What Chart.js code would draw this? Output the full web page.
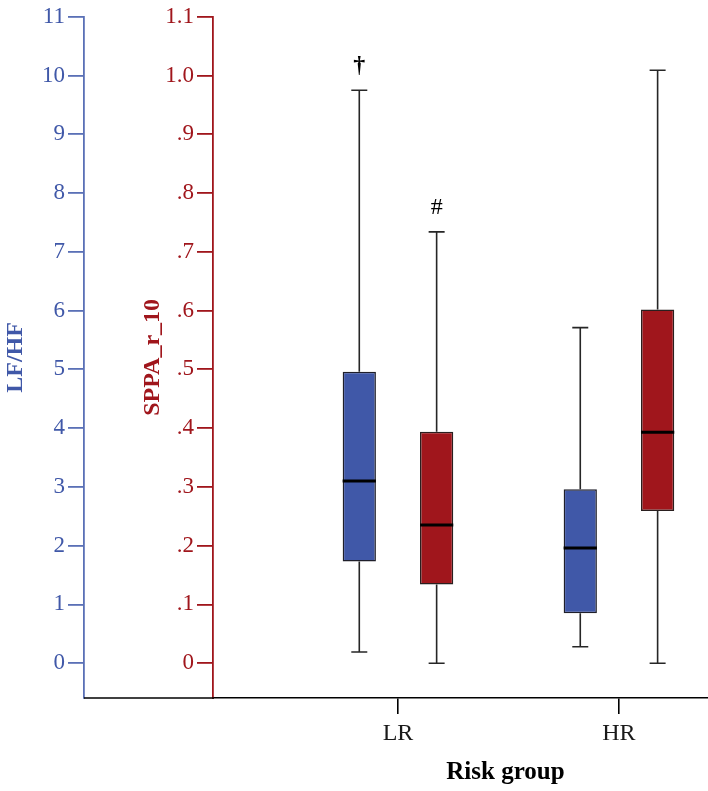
<!DOCTYPE html>
<html>
<head>
<meta charset="utf-8">
<script src="https://cdn.jsdelivr.net/npm/chart.js@4/dist/chart.umd.min.js"></script>
<style>
  html, body { margin: 0; padding: 0; background: #ffffff; }
  #wrap { width: 708px; height: 791px; position: relative; }
</style>
</head>
<body>
<div id="wrap"><canvas id="c" width="708" height="791"></canvas></div>
<script>
// ---- data ----
const groups = ['LR', 'HR'];
const groupPos = [1, 2];
const xTitle = 'Risk group';

// LF/HF (left blue axis)
const lfhfMin = [0.19, 0.28];
const lfhfQ1  = [1.73, 0.85];
const lfhfMed = [3.10, 1.96];
const lfhfQ3  = [4.96, 2.96];
const lfhfMax = [9.75, 5.71];

// SPPA_r_10 (inner red axis)
const sppaMin = [0.0, 0.0];
const sppaQ1  = [0.134, 0.259];
const sppaMed = [0.235, 0.393];
const sppaQ3  = [0.394, 0.602];
const sppaMax = [0.734, 1.009];

const lfhfTicks = [0, 1, 2, 3, 4, 5, 6, 7, 8, 9, 10, 11];
const sppaTicks = [0, 0.1, 0.2, 0.3, 0.4, 0.5, 0.6, 0.7, 0.8, 0.9, 1.0, 1.1];

const markTexts = ['†', '#'];      // significance marks
const markSeries = [0, 1];         // dataset index
const markGroup = [0, 0];          // group index

// ---- styles ----
const BLUE = '#4058A8';
const BLUE_AXIS = '#5A70B6';
const RED = '#A0161C';
const SERIF = '"Liberation Serif", "Times New Roman", serif';

const whiskerData = [
  { min: lfhfMin, med: lfhfMed, max: lfhfMax, q1: lfhfQ1, q3: lfhfQ3 },
  { min: sppaMin, med: sppaMed, max: sppaMax, q1: sppaQ1, q3: sppaQ3 }
];

const boxPlugin = {
  id: 'boxparts',
  beforeDatasetsDraw(chart) {
    const ctx = chart.ctx;
    ctx.save();
    ctx.strokeStyle = '#262626';
    ctx.lineWidth = 1.6;
    chart.data.datasets.forEach((ds, di) => {
      const meta = chart.getDatasetMeta(di);
      const ys = chart.scales[ds.yAxisID];
      const w = whiskerData[di];
      meta.data.forEach((el, i) => {
        const x = el.x;
        const capHalf = 8;
        const yMax = ys.getPixelForValue(w.max[i]);
        const yMin = ys.getPixelForValue(w.min[i]);
        const yQ3 = ys.getPixelForValue(w.q3[i]);
        const yQ1 = ys.getPixelForValue(w.q1[i]);
        ctx.beginPath();
        ctx.moveTo(x, yQ3); ctx.lineTo(x, yMax);
        ctx.moveTo(x, yQ1); ctx.lineTo(x, yMin);
        ctx.moveTo(x - capHalf, yMax); ctx.lineTo(x + capHalf, yMax);
        ctx.moveTo(x - capHalf, yMin); ctx.lineTo(x + capHalf, yMin);
        ctx.stroke();
      });
    });
    ctx.restore();
  },
  afterDatasetsDraw(chart) {
    const ctx = chart.ctx;
    ctx.save();
    ctx.strokeStyle = '#000000';
    ctx.lineWidth = 3;
    chart.data.datasets.forEach((ds, di) => {
      const meta = chart.getDatasetMeta(di);
      const ys = chart.scales[ds.yAxisID];
      const w = whiskerData[di];
      meta.data.forEach((el, i) => {
        const yM = ys.getPixelForValue(w.med[i]);
        ctx.beginPath();
        ctx.moveTo(el.x - el.width / 2, yM);
        ctx.lineTo(el.x + el.width / 2, yM);
        ctx.stroke();
      });
    });
    // significance marks
    ctx.fillStyle = '#000000';
    ctx.textAlign = 'center';
    ctx.textBaseline = 'bottom';
    markTexts.forEach((t, k) => {
      const di = markSeries[k], gi = markGroup[k];
      const ds = chart.data.datasets[di];
      const el = chart.getDatasetMeta(di).data[gi];
      const ys = chart.scales[ds.yAxisID];
      const y = ys.getPixelForValue(whiskerData[di].max[gi]);
      ctx.font = (t === '†' ? 'bold 24px ' : '24px ') + SERIF;
      ctx.fillText(t, el.x, y - 12);
    });
    ctx.restore();
  },
  afterDraw(chart) {
    const ctx = chart.ctx;
    const yB = chart.scales.yB;
    const xs = chart.scales.x;
    ctx.save();
    // continue the x-axis baseline to the outer (blue) axis
    ctx.strokeStyle = '#000000';
    ctx.lineWidth = 1.6;
    ctx.beginPath();
    ctx.moveTo(yB.right, chart.chartArea.bottom);
    ctx.lineTo(chart.chartArea.left + 1, chart.chartArea.bottom);
    ctx.stroke();
    // x-axis title, centred between the two groups
    const cx = (xs.getPixelForValue(groupPos[0]) + xs.getPixelForValue(groupPos[groupPos.length - 1])) / 2;
    ctx.fillStyle = '#000000';
    ctx.font = 'bold 25px ' + SERIF;
    ctx.textAlign = 'center';
    ctx.textBaseline = 'alphabetic';
    ctx.fillText(xTitle, cx - 3, xs.bottom - 12);
    ctx.restore();
  }
};

const fmtSppa = v => {
  if (Math.abs(v) < 1e-9) return '0';
  const s = v.toFixed(1);
  return v < 1 ? s.replace(/^0/, '') : s;
};

new Chart(document.getElementById('c'), {
  type: 'bar',
  data: {
    datasets: [
      {
        label: 'LF/HF',
        xAxisID: 'x',
        yAxisID: 'yB',
        data: groupPos.map((x, i) => ({ x: x, y: [lfhfQ1[i], lfhfQ3[i]] })),
        backgroundColor: BLUE,
        borderColor: '#1f1f2a',
        borderWidth: 1.5,
        borderSkipped: false,
        categoryPercentage: 0.70,
        barPercentage: 0.43
      },
      {
        label: 'SPPA_r_10',
        xAxisID: 'x',
        yAxisID: 'yR',
        data: groupPos.map((x, i) => ({ x: x, y: [sppaQ1[i], sppaQ3[i]] })),
        backgroundColor: RED,
        borderColor: '#2a1f1f',
        borderWidth: 1.5,
        borderSkipped: false,
        categoryPercentage: 0.70,
        barPercentage: 0.43
      }
    ]
  },
  options: {
    responsive: false,
    animation: false,
    devicePixelRatio: 1,
    layout: { padding: { top: 13, left: 0, right: 0, bottom: 0 } },
    plugins: { legend: { display: false }, tooltip: { enabled: false } },
    scales: {
      x: {
        type: 'linear',
        position: 'bottom',
        offset: false,
        min: 0.163,
        max: 2.403,
        afterBuildTicks: s => { s.ticks = groupPos.map(v => ({ value: v })); },
        afterFit: s => { s.height = 93; },
        ticks: {
          callback: (v) => { const i = groupPos.indexOf(v); return i >= 0 ? groups[i] : ''; },
          font: { family: SERIF, size: 24 },
          color: '#1a1a1a',
          padding: 5,
          autoSkip: false,
          maxRotation: 0
        },
        grid: { offset: false, drawOnChartArea: false, drawTicks: true, tickLength: 16, color: '#000000', lineWidth: 1.6 },
        border: { display: true, color: '#000000', width: 1.6 },
        title: { display: false }
      },
      yB: {
        type: 'linear',
        position: 'left',
        weight: 2,
        min: -0.592,
        max: 11,
        afterBuildTicks: s => { s.ticks = lfhfTicks.map(v => ({ value: v })); },
        afterFit: s => { s.width = 84; },
        ticks: {
          font: { family: SERIF, size: 23 },
          color: BLUE,
          padding: 3,
          callback: v => String(v)
        },
        grid: { drawOnChartArea: false, drawTicks: true, tickLength: 16, color: BLUE_AXIS, lineWidth: 1.8 },
        border: { display: true, color: BLUE_AXIS, width: 1.8 },
        title: {
          display: true,
          text: 'LF/HF',
          font: { family: SERIF, size: 24, weight: 'bold' },
          color: BLUE,
          padding: { top: 1, bottom: 0 }
        }
      },
      yR: {
        type: 'linear',
        position: 'left',
        weight: 1,
        min: -0.0592,
        max: 1.1,
        afterBuildTicks: s => { s.ticks = sppaTicks.map(v => ({ value: v })); },
        afterFit: s => { s.width = 129; },
        ticks: {
          font: { family: SERIF, size: 23 },
          color: RED,
          padding: 3,
          callback: v => fmtSppa(v)
        },
        grid: { drawOnChartArea: false, drawTicks: true, tickLength: 16, color: RED, lineWidth: 1.8 },
        border: { display: true, color: RED, width: 1.8 },
        title: {
          display: true,
          text: 'SPPA_r_10',
          font: { family: SERIF, size: 24, weight: 'bold' },
          color: RED,
          padding: { top: 54, bottom: 0 }
        }
      }
    }
  },
  plugins: [boxPlugin]
});
</script>
</body>
</html>
